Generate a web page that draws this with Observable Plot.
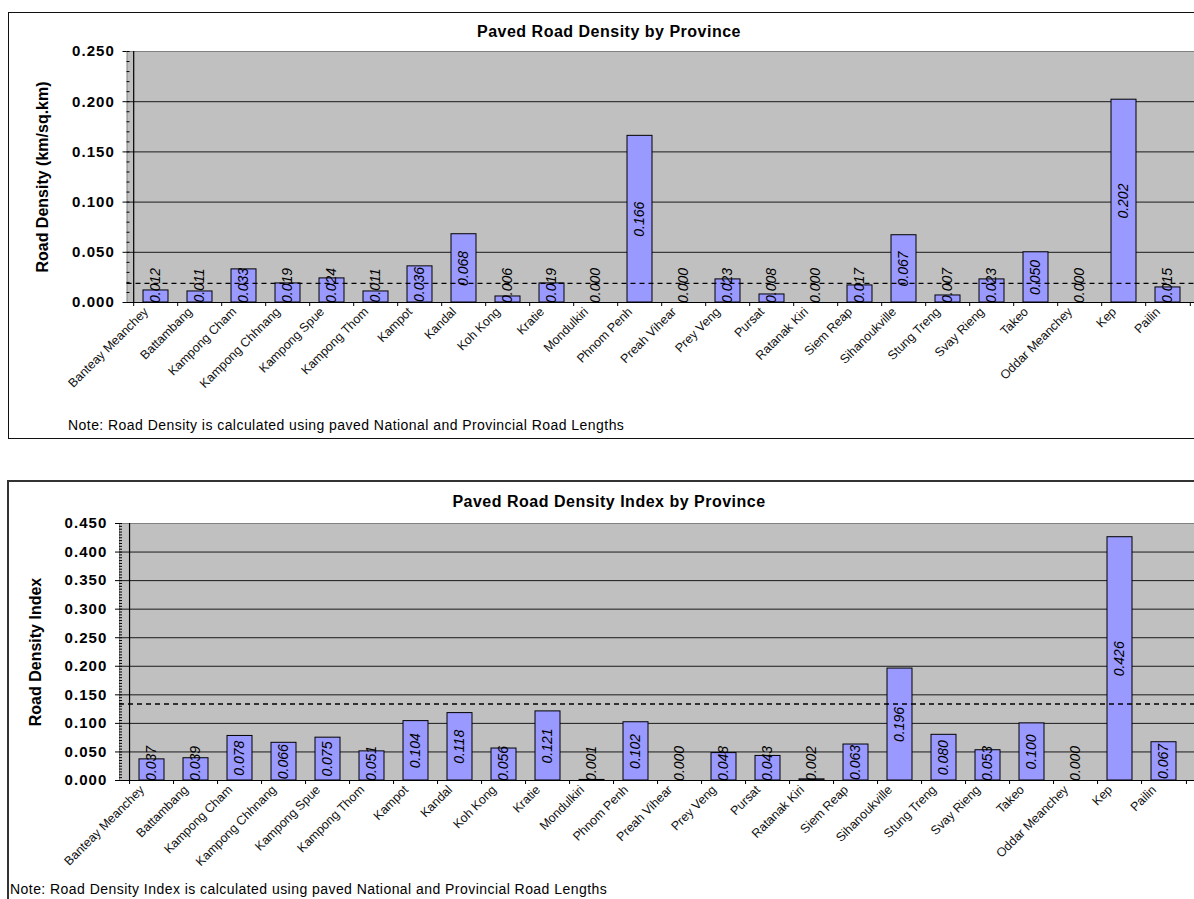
<!DOCTYPE html>
<html>
<head>
<meta charset="utf-8">
<script src="https://cdn.jsdelivr.net/npm/d3@7"></script>
<script src="https://cdn.jsdelivr.net/npm/@observablehq/plot@0.6"></script>
<style>
  html, body { margin: 0; padding: 0; background: #fff; overflow: hidden; width: 1194px; height: 899px; }
  body { position: relative; font-family: "Liberation Sans", Arial, sans-serif; color: #000; }
  .box { position: absolute; box-sizing: border-box; }
  #box1 { left: 8px; top: 12px; width: 1200px; height: 427px; border: 1.5px solid #111; }
  #box2 { left: 7px; top: 480px; width: 1200px; height: 440px; border: 2px solid #333; }
  .title { position: absolute; left: 0; width: 1218px; text-align: center; font-weight: bold;
           font-size: 16px; line-height: 20px; letter-spacing: 0.5px; }
  .note { position: absolute; font-size: 14px; line-height: 16px; white-space: nowrap; letter-spacing: 0.45px; }
  .chart { position: absolute; left: 0; }
  g[aria-label="y-axis tick label"] text { letter-spacing: 1.1px; }
  g[aria-label="axis title"] text { letter-spacing: 0.9px; }
  g[aria-label="category label"] text { letter-spacing: 1.4px; }
</style>
</head>
<body>
<div class="box" id="box1"></div>
<div class="box" id="box2"></div>
<div class="title" style="top:22px">Paved Road Density by Province</div>
<div class="title" style="top:492px">Paved Road Density Index by Province</div>
<div class="chart" id="chart1" style="top:0px"></div>
<div class="chart" id="chart2" style="top:470px"></div>
<div class="note" style="left:68px; top:417px">Note: Road Density is calculated using paved National and Provincial Road Lengths</div>
<div class="note" style="left:10px; top:881px">Note: Road Density Index is calculated using paved National and Provincial Road Lengths</div>
<script>
// Provinces in chart order
const provinces = [
  "Banteay Meanchey", "Battambang", "Kampong Cham", "Kampong Chhnang", "Kampong Spue",
  "Kampong Thom", "Kampot", "Kandal", "Koh Kong", "Kratie", "Mondulkiri", "Phnom Penh",
  "Preah Vihear", "Prey Veng", "Pursat", "Ratanak Kiri", "Siem Reap", "Sihanoukville",
  "Stung Treng", "Svay Rieng", "Takeo", "Oddar Meanchey", "Kep", "Pailin"
];

// Paved road density (km/sq.km)
const densityValues = [
  0.012, 0.011, 0.033, 0.019, 0.024, 0.011, 0.036, 0.068, 0.006, 0.019, 0.000, 0.166,
  0.000, 0.023, 0.008, 0.000, 0.017, 0.067, 0.007, 0.023, 0.050, 0.000, 0.202, 0.015
];

// Paved road density index
const indexValues = [
  0.037, 0.039, 0.078, 0.066, 0.075, 0.051, 0.104, 0.118, 0.056, 0.121, 0.001, 0.102,
  0.000, 0.048, 0.043, 0.002, 0.063, 0.196, 0.080, 0.053, 0.100, 0.000, 0.426, 0.067
];

// Dashed reference levels
const densityReference = 0.019;
const indexReference = 0.134;

// Axis ticks
const densityTicks = [0, 0.05, 0.10, 0.15, 0.20, 0.25];
const densityMinorTicks = d3.range(0, 26).map(i => i / 100);
const indexTicks = [0, 0.05, 0.10, 0.15, 0.20, 0.25, 0.30, 0.35, 0.40, 0.45];
const indexMinorTicks = d3.range(0, 91).map(i => i / 200);

function barChart({values, reference, yMax, ticks, minorTicks, labelFloor, yLabel,
                   height, marginTop, marginBottom, marginLeft, marginRight}) {
  const width = 1200;
  const data = provinces.map((p, i) => ({province: p, value: values[i]}));
  const step = (width - marginLeft - marginRight) / provinces.length;
  const pxPerUnit = (height - marginTop - marginBottom) / yMax;
  const tickLen = 4 / pxPerUnit;
  const fmt = d3.format(".3f");
  return Plot.plot({
    width, height, marginTop, marginBottom, marginLeft, marginRight,
    style: {background: "transparent", overflow: "visible", maxWidth: "none",
            fontFamily: "'Liberation Sans', Arial, sans-serif", color: "#000"},
    x: {domain: provinces, paddingInner: 0.44, paddingOuter: 0.22, axis: null},
    y: {domain: [0, yMax], axis: null},
    marks: [
      // plot area
      Plot.frame({fill: "#c0c0c0", stroke: "#808080"}),
      // major gridlines
      Plot.ruleY(ticks.filter(t => t > 0 && t < yMax - 1e-9), {stroke: "#1a1a1a", strokeWidth: 1}),
      // bars
      Plot.barY(data, {x: "province", y: "value", fill: "#9999ff", stroke: "#000", strokeWidth: 1}),
      // dashed reference
      Plot.ruleY([reference], {stroke: "#000", strokeWidth: 1.4, strokeDasharray: "5,4"}),
      // axis lines
      Plot.ruleY([0], {stroke: "#000", strokeWidth: 1.2}),
      Plot.ruleX([provinces[0]], {dx: -step / 2, stroke: "#000", strokeWidth: 1.2}),
      // category boundary ticks below the axis
      Plot.ruleX(provinces, {x: d => d, y1: 0, y2: -tickLen, dx: -step / 2, stroke: "#000"}),
      Plot.ruleX([provinces[provinces.length - 1]], {y1: 0, y2: -tickLen, dx: step / 2, stroke: "#000"}),
      // y axis: minor ticks inside, major ticks and labels outside
      Plot.axisY(minorTicks, {anchor: "left", tickSize: 3, dx: 3, fill: "none", label: null, stroke: "#000"}),
      Plot.axisY(ticks, {anchor: "left", tickSize: 4, tickPadding: 8, tickFormat: fmt,
                         fontSize: 15, fontWeight: "bold", label: null, stroke: "#000", fill: "#000"}),
      // y axis title
      Plot.text([yLabel], {frameAnchor: "left", dx: -84, rotate: -90, textAnchor: "middle",
                           fontSize: 16, fontWeight: "bold", fill: "#000", ariaLabel: "axis title"}),
      // category labels
      Plot.text(provinces, {x: d => d, frameAnchor: "bottom", text: d => d, rotate: -45,
                            textAnchor: "end", dy: 10, dx: -7, fontSize: 12.5, fill: "#111",
                            ariaLabel: "category label"}),
      // value labels
      Plot.text(data, {x: "province", y: d => Math.max(d.value / 2, labelFloor),
                       text: d => fmt(d.value), rotate: -90, fontStyle: "italic",
                       fontSize: 14, fill: "#000", ariaLabel: "value label"})
    ]
  });
}

document.getElementById("chart1").append(barChart({
  values: densityValues, reference: densityReference, yMax: 0.25,
  ticks: densityTicks, minorTicks: densityMinorTicks, labelFloor: 0.017,
  yLabel: "Road Density (km/sq.km)",
  height: 400, marginTop: 51, marginBottom: 98, marginLeft: 126.5, marginRight: 2.9
}));

document.getElementById("chart2").append(barChart({
  values: indexValues, reference: indexReference, yMax: 0.45,
  ticks: indexTicks, minorTicks: indexMinorTicks, labelFloor: 0.03,
  yLabel: "Road Density Index",
  height: 420, marginTop: 53, marginBottom: 110, marginLeft: 119, marginRight: 3.4
}));
</script>
</body>
</html>
